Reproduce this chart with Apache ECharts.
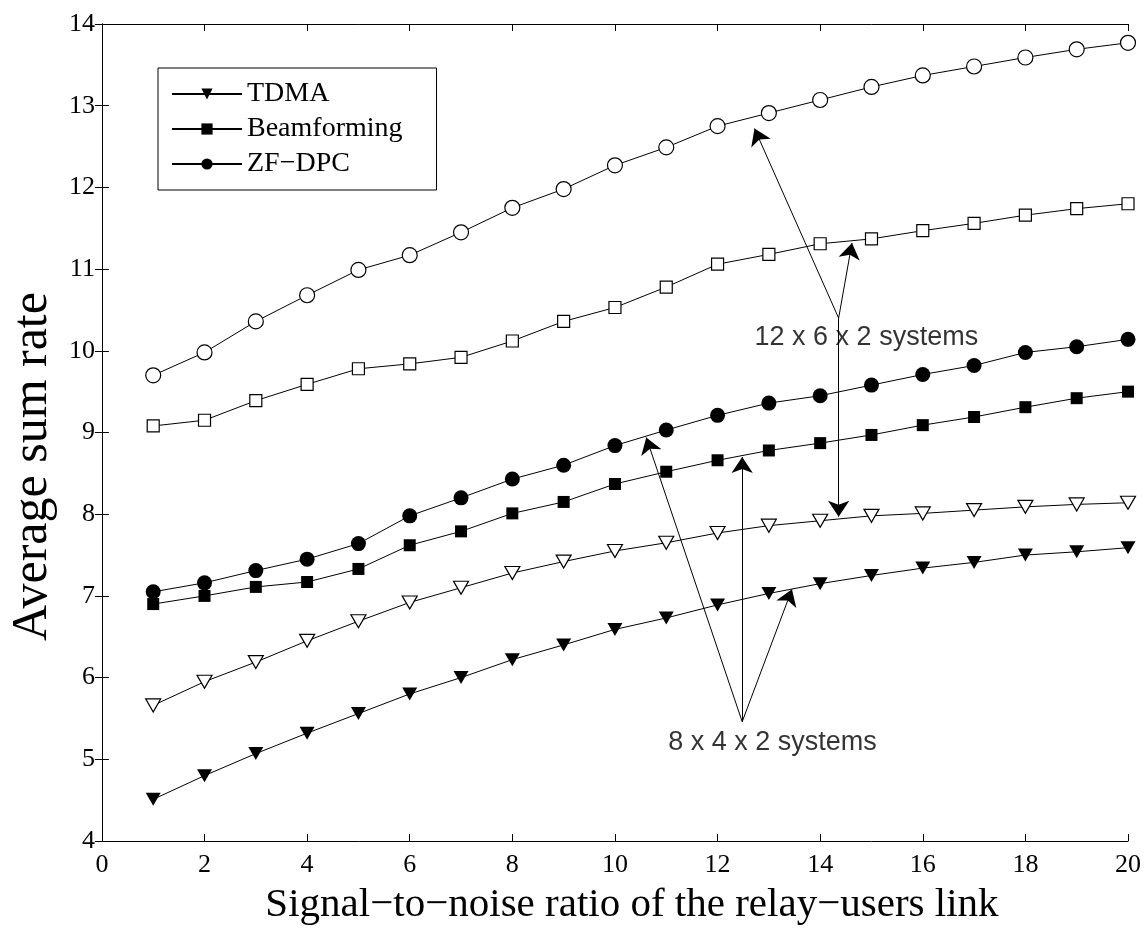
<!DOCTYPE html>
<html>
<head>
<meta charset="utf-8">
<script src="https://cdn.jsdelivr.net/npm/echarts@6/dist/echarts.min.js"></script>
<style>
html,body{margin:0;padding:0;background:#fff;}
#chart{width:1145px;height:933px;}
</style>
</head>
<body>
<div id="chart"></div>
<script>
// ---- data ----
const snr = [1,2,3,4,5,6,7,8,9,10,11,12,13,14,15,16,17,18,19,20];
const xTicks = [0,2,4,6,8,10,12,14,16,18,20];
const yTicks = [4,5,6,7,8,9,10,11,12,13,14];

// 12 x 6 x 2 systems (open markers)
const zfdpc12 = [9.70,9.98,10.36,10.68,10.99,11.17,11.45,11.75,11.98,12.27,12.49,12.75,12.91,13.07,13.23,13.37,13.48,13.59,13.69,13.77];
const beam12  = [9.08,9.15,9.39,9.59,9.78,9.84,9.92,10.12,10.36,10.53,10.78,11.06,11.18,11.31,11.37,11.47,11.56,11.66,11.74,11.80];
const tdma12  = [5.66,5.95,6.19,6.45,6.69,6.92,7.10,7.28,7.42,7.55,7.65,7.77,7.86,7.92,7.98,8.01,8.05,8.09,8.12,8.14];

// 8 x 4 x 2 systems (filled markers)
const zfdpc8 = [7.05,7.16,7.31,7.45,7.64,7.98,8.20,8.43,8.60,8.84,9.03,9.21,9.36,9.45,9.58,9.71,9.82,9.98,10.05,10.14];
const beam8  = [6.90,7.00,7.11,7.17,7.33,7.62,7.79,8.01,8.15,8.37,8.52,8.66,8.78,8.87,8.97,9.09,9.19,9.31,9.42,9.50];
const tdma8  = [4.51,4.80,5.07,5.32,5.56,5.80,6.00,6.22,6.40,6.59,6.73,6.89,7.03,7.15,7.25,7.34,7.41,7.50,7.54,7.59];

// annotations (data coordinates)
const annoText = ["12 x 6 x 2 systems", "8 x 4 x 2 systems"];
const annoPos  = [[14.90, 10.16], [13.07, 5.20]];
const apex12 = [14.36, 10.40];
const tips12 = [[12.72, 12.72], [14.62, 11.32], [14.36, 7.97]];
const apex8 = [12.48, 5.46];
const tips8 = [[10.61, 8.94], [12.48, 8.70], [13.45, 7.08]];

// ---- chart ----
const chart = echarts.init(document.getElementById('chart'), null, {renderer:'canvas'});
const pair = (ys) => snr.map((x,i)=>[x, ys[i]]);
const serif = 'Liberation Serif';

function lineSeries(name, ys, symbol, size, filled, rotate){
  return {
    name: name, type: 'line', data: pair(ys),
    symbol: symbol, symbolSize: size, symbolRotate: rotate || 0,
    showAllSymbol: true,
    lineStyle: {color:'#000', width:1},
    itemStyle: {color: filled ? '#000' : '#fff', borderColor:'#000', borderWidth: filled ? 0 : 1.2},
    emphasis: {disabled:true}, animation:false, z: 3
  };
}

const arrowLines = [];
tips12.forEach(t => arrowLines.push([{coord: apex12}, {coord: t}]));
tips8.forEach(t => arrowLines.push([{coord: apex8}, {coord: t}]));

const axisCommon = {
  axisLine: {show:true, lineStyle:{color:'#000', width:1}},
  axisTick: {show:true, inside:true, length:7, lineStyle:{color:'#000'}},
  splitLine: {show:false}
};

const option = {
  backgroundColor: '#fff',
  animation: false,
  grid: {left:100, right:17, top:24, bottom:92, containLabel:false},
  legend: {
    data: ['TDMA','Beamforming','ZF−DPC'],
    orient: 'vertical', left: 158, top: 68,
    backgroundColor: '#fff',
    borderColor: '#000', borderWidth: 1, borderRadius: 0,
    padding: [12, 34, 12, 13],
    itemGap: 7, itemWidth: 70, itemHeight: 14,
    textStyle: {fontFamily: serif, fontSize: 28, color:'#000'},
    selectedMode: false
  },
  xAxis: [
    Object.assign({}, axisCommon, {
      type:'value', min:xTicks[0], max:xTicks[xTicks.length-1], interval:2,
      name:'Signal−to−noise ratio of the relay−users link', nameLocation:'middle', nameGap:44,
      nameTextStyle:{fontFamily:serif, fontSize:41, color:'#000', padding:[0,0,0,34]},
      axisLabel:{fontFamily:serif, fontSize:26, color:'#000', margin:11}
    }),
    Object.assign({}, axisCommon, {
      type:'value', position:'top', min:0, max:20, interval:2, axisLabel:{show:false}
    })
  ],
  yAxis: [
    Object.assign({}, axisCommon, {
      type:'value', min:yTicks[0], max:yTicks[yTicks.length-1], interval:1,
      name:'Average sum rate', nameLocation:'middle', nameGap:40,
      nameTextStyle:{fontFamily:serif, fontSize:50, color:'#000', padding:[0,68,0,0]},
      axisLabel:{fontFamily:serif, fontSize:26, color:'#000', margin:7}
    }),
    Object.assign({}, axisCommon, {
      type:'value', position:'right', min:4, max:14, interval:1, axisLabel:{show:false}
    })
  ],
  series: [
    lineSeries('TDMA', tdma8, 'triangle', [15,13], true, 180),
    lineSeries('Beamforming', beam8, 'rect', 12, true),
    lineSeries('ZF−DPC', zfdpc8, 'circle', 15, true),
    lineSeries('TDMA 12x6x2', tdma12, 'triangle', [15,13], false, 180),
    lineSeries('Beamforming 12x6x2', beam12, 'rect', 12, false),
    lineSeries('ZF−DPC 12x6x2', zfdpc12, 'circle', 15, false),
    {
      name:'annotations', type:'scatter',
      data: annoPos.map((p,i)=>({value:p, label:{formatter: annoText[i]}})),
      symbolSize: 1,
      itemStyle: {color:'rgba(0,0,0,0)'},
      label: {show:true, position:'top', distance:-14, align:'center',
              fontFamily:'Liberation Sans', fontSize:27, color:'#000'},
      emphasis:{disabled:true}, silent:true, z: 5,
      markLine: {
        silent:true, animation:false,
        symbol:['none','arrow'], symbolSize:16,
        lineStyle:{color:'#000', width:1, type:'solid'},
        label:{show:false},
        emphasis:{disabled:true},
        data: arrowLines
      }
    }
  ]
};
chart.setOption(option);
</script>
</body>
</html>
